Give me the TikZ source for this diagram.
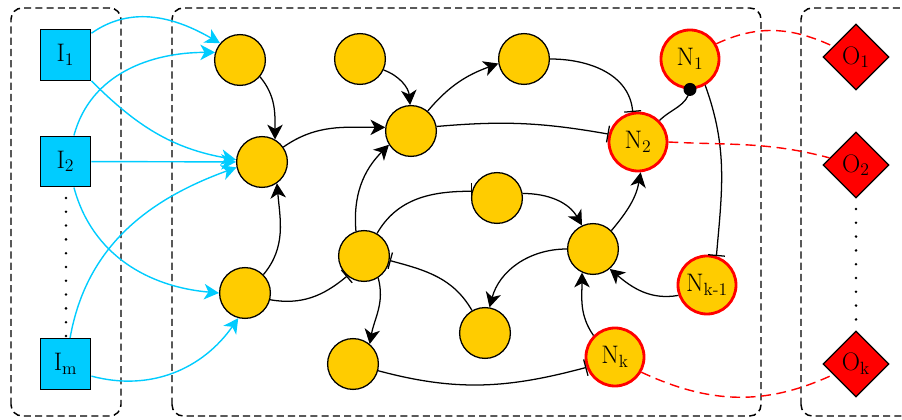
\documentclass[tikz,border=0pt]{standalone}
\usepackage{fontspec}
\usetikzlibrary{arrows.meta,shapes.geometric}
\definecolor{incyan}{RGB}{0,204,255}
\definecolor{gold}{RGB}{255,204,0}
\newcommand{\lbl}{\fontsize{18}{21}\selectfont}

\begin{document}
\begin{tikzpicture}[x=0.025cm,y=0.025cm,>={Stealth[length=10.5pt,width=11pt,inset=3pt]},
    gene/.style={circle,draw,fill=gold,line width=0.9pt,minimum size=1.27cm,inner sep=0pt},
    outgene/.style={gene,draw=red,line width=2pt,minimum size=1.45cm,font=\lbl},
    inbox/.style={rectangle,draw,fill=incyan,line width=0.8pt,minimum size=1.27cm,inner sep=0pt,font=\lbl},
    outbox/.style={diamond,draw,fill=red,line width=0.8pt,minimum size=1.65cm,inner sep=0pt,font=\lbl},
    layer/.style={draw,dash pattern=on 5pt off 3pt,line width=1.05pt,rounded corners=8pt},
    act/.style={->,line width=0.9pt},
    inh/.style={-{Bar[width=12pt]},line width=0.9pt},
    feed/.style={->,incyan,line width=1pt},
    readout/.style={red,dash pattern=on 7pt off 4pt,line width=1pt}]
\useasboundingbox (0,0) rectangle (902,420);
% layers
\draw[layer] (11,4) rectangle (121,412);
\draw[layer] (172,4) rectangle (761,412);
\draw[layer] (801,4) rectangle (940,412);
\foreach \k in {0,...,10} \fill (66,222-13.8*\k) circle (1.4);
\foreach \k in {0,...,9} \fill (856,211-13.8*\k) circle (1.4);

% inputs
\node[inbox] (I1) at (65.5,365) {I\textsubscript{1}};
\node[inbox] (I2) at (65.5,258.5) {I\textsubscript{2}};
\node[inbox] (Im) at (65.5,56) {I\textsubscript{m}};

% reservoir
\node[gene] (a) at (240,360) {};
\node[gene] (b) at (262,258) {};
\node[gene] (c) at (245,127) {};
\node[gene] (d) at (360,361) {};
\node[gene] (e) at (411,289) {};
\node[gene] (f) at (524,361) {};
\node[gene] (g) at (497,222) {};
\node[gene] (h) at (364,164) {};
\node[gene] (j) at (353,56) {};
\node[gene] (k) at (485,87) {};
\node[gene] (l) at (593,171) {};
\node[outgene] (n1) at (690,361) {N\textsubscript{1}};
\node[outgene] (n2) at (638,278) {N\textsubscript{2}};
\node[outgene] (nk1) at (707,135) {N\textsubscript{k-1}};
\node[outgene] (nk) at (615,63) {N\textsubscript{k}};

% outputs
\node[outbox] (o1) at (856,363) {O\textsubscript{1}};
\node[outbox] (o2) at (856,255) {O\textsubscript{2}};
\node[outbox] (ok) at (856,56) {O\textsubscript{k}};

\draw[feed] (I1.40) to[out=35,in=150] (a.140);
\draw[feed] (I1.south east) to[out=-45,in=170] (b.175);
\draw[feed] (I2.72) to[out=75,in=180] (a.163);
\draw[feed] (I2) -- (b);
\draw[feed] (I2.-72) to[out=-75,in=175] (c.west);
\draw[feed] (Im.80) to[out=80,in=200] (b.192);
\draw[feed] (Im.-25) to[out=-15,in=235] (c.-105);

\draw[act] (a.-40) to[out=-50,in=90] (b.60);
\draw[act] (c.45) to[out=50,in=-85] (b.-55);
\draw[act] (b.35) to[out=35,in=180] (e.172);
\draw[act] (d.-25) to[out=-20,in=95] (e.92);
\draw[act] (e.50) to[out=50,in=200] (f.190);
\draw[inh] (f.east) to[out=0,in=95] (n2.100);
\draw[inh] (e.10) to[out=5,in=170] (n2.165);
\draw[act] (h.108) to[out=95,in=225] (e.212);
\draw[inh] (h.60) to[out=60,in=180] (g.165);
\draw[act] (g.10) to[out=0,in=120] (l.115);
\draw[act] (l.45) to[out=50,in=-100] (n2.-85);
\draw[act] (l.west) to[out=180,in=75] (k.80);
\draw[inh] (k.120) to[out=120,in=-15] (h.-10);
\draw[inh] (c.-15) to[out=-10,in=220] (h.230);
\draw[act] (h.-57) to[out=-75,in=80] (j.50);
\draw[inh] (j.-15) to[out=-15,in=195] (nk.200);
\draw[act] (nk.135) to[out=125,in=-90] (l.-115);
\draw[act] (nk1.200) to[out=190,in=-40] (l.-50);
\draw[line width=0.9pt] (n2.45) to[out=45,in=-100] (n1.south);
\fill (n1.south) circle (6.5);
\draw[inh] (n1.-60) to[out=-70,in=85] (nk1.72);

\draw[readout] (n1.30) to[out=25,in=155] (o1.155);
\draw[readout] (n2.east) to[out=-3,in=165] (o2.165);
\draw[readout] (nk.-30) to[out=-25,in=205] (ok.205);

\end{tikzpicture}
\end{document}
